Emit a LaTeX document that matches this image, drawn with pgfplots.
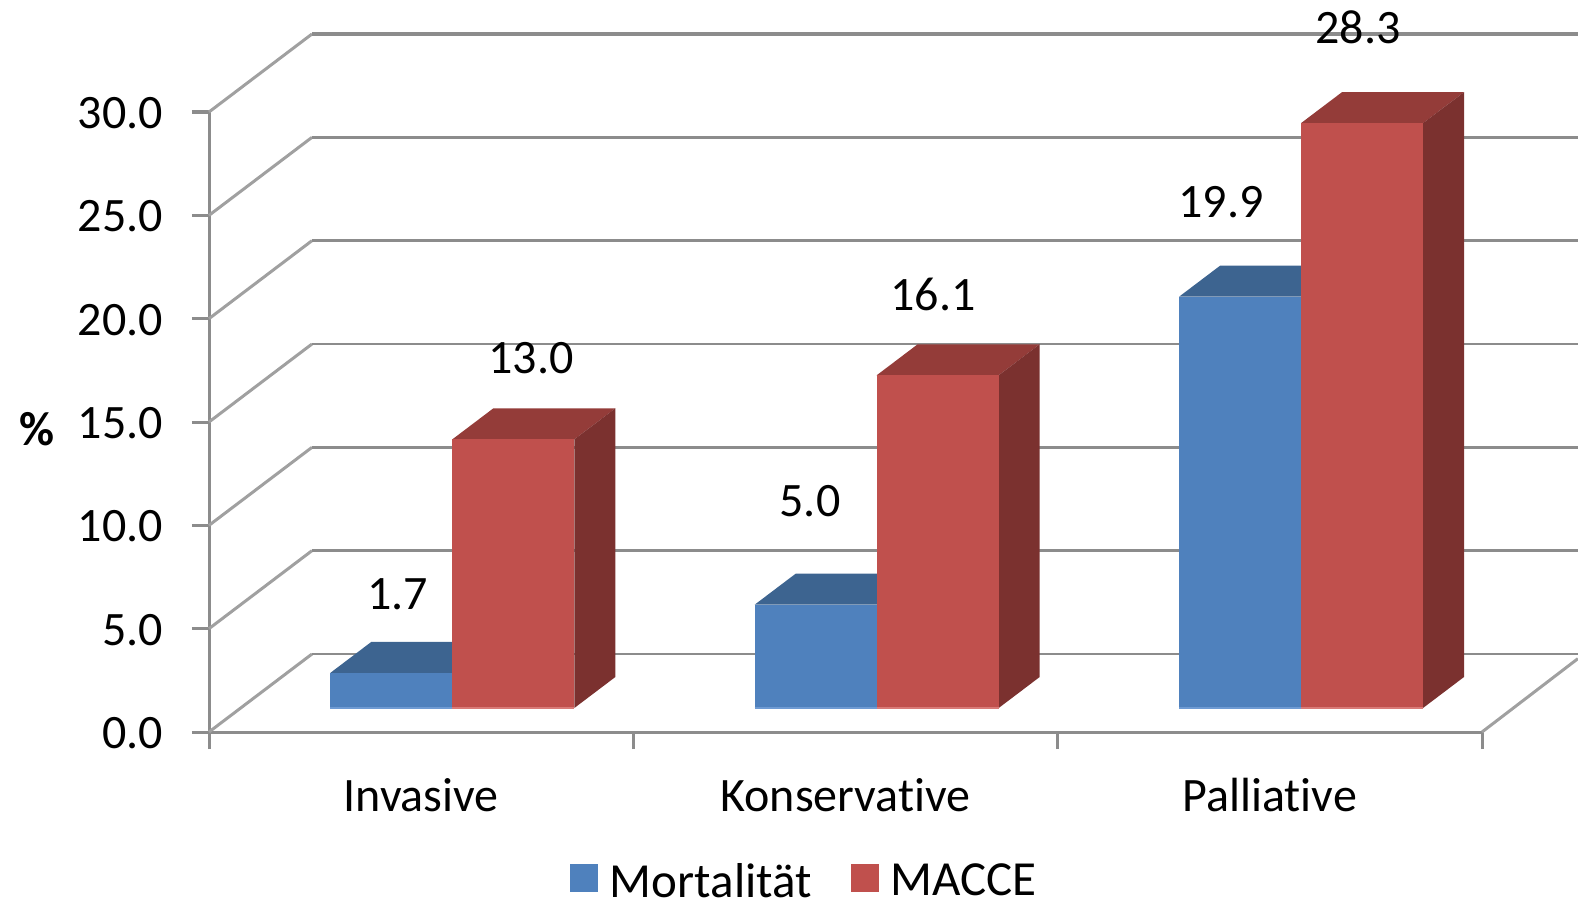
\documentclass[border=0pt]{standalone}
\usepackage{pgfplots}
\usepackage{fontspec}
\setmainfont[Ligatures=NoCommon]{Carlito}
\pgfplotsset{compat=1.18}
\definecolor{bluef}{HTML}{4F81BD}
\definecolor{bluet}{HTML}{3D6490}
\definecolor{blues}{HTML}{335478}
\definecolor{blueb}{HTML}{6F9BD3}
\definecolor{redf}{HTML}{C0504D}
\definecolor{redt}{HTML}{943C39}
\definecolor{reds}{HTML}{7B312F}
\definecolor{redb}{HTML}{D97B78}
\definecolor{gridc}{HTML}{8C8C8C}
\definecolor{diagc}{HTML}{A0A0A0}
\pgfplotsset{
  wall/.style={draw=gridc,line width=1.3pt,forget plot,mark=none},
  diag/.style={draw=diagc,line width=1.5pt,forget plot,mark=none},
  face/.style={draw=none,fill=#1,forget plot,mark=none,yshift=12pt},
  base/.style={draw=#1,line width=1pt,forget plot,mark=none,yshift=12pt},
  front/.style={ybar,bar width=61pt,bar shift=0pt,draw=none,fill=#1,mark=none,yshift=12pt,
    legend image code/.code={\fill[#1] (0pt,-17pt) rectangle (14pt,-3pt);}},
}
\newcommand{\lab}{\fontsize{24}{28}\selectfont}
\begin{document}
\begin{tikzpicture}
\path[use as bounding box] (0,0) rectangle (789pt,450pt);
\begin{axis}[
  at={(104.5pt,84pt)},anchor=south west,
  scale only axis,width=636.5pt,height=310pt,
  xmin=0,xmax=3,ymin=0,ymax=30,clip=false,
  axis lines=left,axis line style={draw=gridc,line width=1.5pt,-},
  tick align=outside,major tick length=8.5pt,
  tick style={draw=gridc,line width=1.5pt},
  xtick={0,1,2,3},xticklabels={},
  extra x ticks={0.5,1.5,2.5},
  extra x tick labels={Invasive,Konservative,Palliative},
  extra x tick style={major tick length=0pt,
    xticklabel style={yshift=-19.5pt}},
  ytick={0,5,10,15,20,25,30},
  ticklabel style={font=\lab,text=black},
  yticklabel style={/pgf/number format/fixed,/pgf/number format/fixed zerofill,
    /pgf/number format/precision=1,/pgf/number format/assume math mode=true,yshift=-0.5pt},
  yticklabel shift=11pt,
  legend style={at={(0.4685,-0.2412)},anchor=center,draw=none,fill=none,
    font=\fontsize{24.5}{28}\selectfont,legend columns=2,
    /tikz/every even column/.append style={column sep=17.5pt},
    /tikz/every odd column/.append style={column sep=4pt}},
]
% back wall and left wall gridlines
\addplot[diag] coordinates {(0,0)(0.2427,3.774)};
\addplot[diag] coordinates {(0,5)(0.2427,8.774)};
\addplot[diag] coordinates {(0,10)(0.2427,13.774)};
\addplot[diag] coordinates {(0,15)(0.2427,18.774)};
\addplot[diag] coordinates {(0,20)(0.2427,23.774)};
\addplot[diag] coordinates {(0,25)(0.2427,28.774)};
\addplot[diag] coordinates {(0,30)(0.2427,33.774)};
\addplot[diag] coordinates {(3,0)(3.226,3.55)};
\addplot[wall] coordinates {(0.2427,3.774)(3.226,3.774)};
\addplot[wall] coordinates {(0.2427,8.774)(3.226,8.774)};
\addplot[wall] coordinates {(0.2427,13.774)(3.226,13.774)};
\addplot[wall] coordinates {(0.2427,18.774)(3.226,18.774)};
\addplot[wall] coordinates {(0.2427,23.774)(3.226,23.774)};
\addplot[wall] coordinates {(0.2427,28.774)(3.226,28.774)};
\addplot[wall,line width=1.8pt] coordinates {(0.2427,33.774)(3.226,33.774)};
% Invasive
\addplot[face=bluet] coordinates {(0.286,1.7)(0.3826,3.2)(0.6701,3.2)(0.5735,1.7)} --cycle;
\addplot[front=bluef] coordinates {(0.42975,1.7)};
\addlegendentry{Mortalität}
\addplot[base=blueb] coordinates {(0.286,0)(0.5735,0)};
\addplot[face=redt] coordinates {(0.5735,13.0)(0.6701,14.5)(0.9576,14.5)(0.861,13.0)} --cycle;
\addplot[face=reds] coordinates {(0.861,0)(0.9576,1.5)(0.9576,14.5)(0.861,13.0)} --cycle;
\addplot[front=redf] coordinates {(0.71725,13.0)};
\addlegendentry{MACCE}
\addplot[base=redb] coordinates {(0.5735,0)(0.861,0)};
% Konservative
\addplot[face=bluet] coordinates {(1.286,5.0)(1.3826,6.5)(1.6701,6.5)(1.5735,5.0)} --cycle;
\addplot[front=bluef,forget plot] coordinates {(1.42975,5.0)};
\addplot[base=blueb] coordinates {(1.286,0)(1.5735,0)};
\addplot[face=redt] coordinates {(1.5735,16.1)(1.6701,17.6)(1.9576,17.6)(1.861,16.1)} --cycle;
\addplot[face=reds] coordinates {(1.861,0)(1.9576,1.5)(1.9576,17.6)(1.861,16.1)} --cycle;
\addplot[front=redf,forget plot] coordinates {(1.71725,16.1)};
\addplot[base=redb] coordinates {(1.5735,0)(1.861,0)};
% Palliative
\addplot[face=bluet] coordinates {(2.286,19.9)(2.3826,21.4)(2.6701,21.4)(2.5735,19.9)} --cycle;
\addplot[front=bluef,forget plot] coordinates {(2.42975,19.9)};
\addplot[base=blueb] coordinates {(2.286,0)(2.5735,0)};
\addplot[face=redt] coordinates {(2.5735,28.3)(2.6701,29.8)(2.9576,29.8)(2.861,28.3)} --cycle;
\addplot[face=reds] coordinates {(2.861,0)(2.9576,1.5)(2.9576,29.8)(2.861,28.3)} --cycle;
\addplot[front=redf,forget plot] coordinates {(2.71725,28.3)};
\addplot[base=redb] coordinates {(2.5735,0)(2.861,0)};
% value labels
\node[font=\lab] at (axis cs:0.4443,6.68) {1.7};
\node[font=\lab] at (axis cs:0.7588,18.09) {13.0};
\node[font=\lab] at (axis cs:1.4163,11.18) {5.0};
\node[font=\lab] at (axis cs:1.7061,21.19) {16.1};
\node[font=\lab] at (axis cs:2.3850,25.64) {19.9};
\node[font=\lab] at (axis cs:2.7079,34.1) {28.3};
\node[font=\lab\bfseries] at (axis cs:-0.405,14.65) {\%};
\end{axis}
\end{tikzpicture}
\end{document}
